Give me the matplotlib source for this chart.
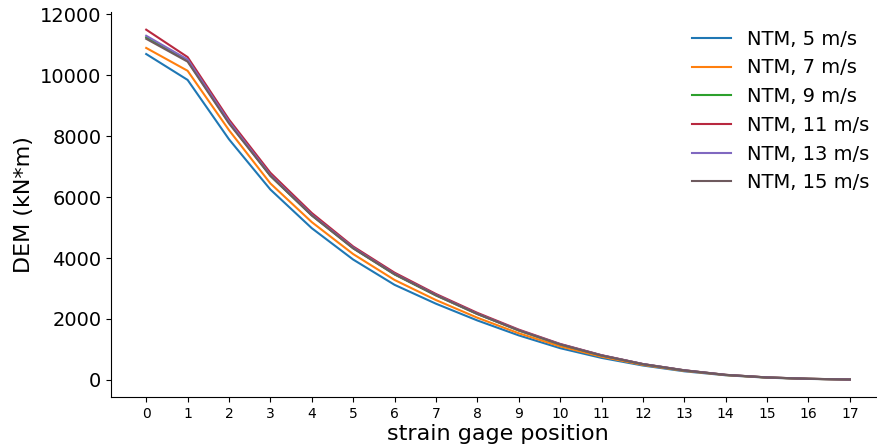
import numpy as np
import matplotlib
matplotlib.use("Agg")
import matplotlib.pyplot as plt

positions = np.arange(18)
labels = ["NTM, 5 m/s", "NTM, 7 m/s", "NTM, 9 m/s", "NTM, 11 m/s", "NTM, 13 m/s", "NTM, 15 m/s"]

dem_5 = [10700, 9850, 7900, 6250, 4980, 3950, 3120, 2500, 1950, 1460, 1040, 720, 470, 280, 150, 70, 30, 10]
dem_7 = [10900, 10150, 8200, 6450, 5180, 4130, 3280, 2620, 2040, 1530, 1100, 760, 490, 295, 155, 74, 32, 10]
dem_9 = [11250, 10480, 8450, 6700, 5400, 4320, 3460, 2770, 2160, 1620, 1160, 800, 515, 310, 162, 78, 34, 11]
dem_11 = [11500, 10600, 8550, 6800, 5480, 4380, 3520, 2820, 2200, 1650, 1180, 810, 520, 315, 165, 80, 35, 11]
dem_13 = [11300, 10520, 8480, 6730, 5420, 4340, 3480, 2790, 2170, 1630, 1170, 805, 518, 312, 163, 79, 34, 11]
dem_15 = [11200, 10450, 8420, 6700, 5400, 4320, 3470, 2780, 2165, 1625, 1165, 800, 515, 310, 162, 78, 34, 11]
series = [dem_5, dem_7, dem_9, dem_11, dem_13, dem_15]
colors = ["#1f77b4", "#ff7f0e", "#2ca02c", "#b8283f", "#8068c0", "#6e5a5e"]

fig = plt.figure(figsize=(8.77, 4.48), dpi=100)
ax = fig.add_axes([0.1266, 0.1138, 0.8826, 0.859])

for vals, lab, c in zip(series, labels, colors):
    ax.plot(positions, vals, label=lab, color=c, linewidth=1.5)

ax.set_xticks(positions)
ax.tick_params(axis="x", labelsize=10)
ax.tick_params(axis="y", labelsize=14)
ax.set_xlabel("strain gage position", fontsize=16, labelpad=2)
ax.set_ylabel("DEM (kN*m)", fontsize=16)
ax.spines["top"].set_visible(False)
ax.spines["right"].set_visible(False)
ax.legend(loc="upper right", frameon=False, fontsize=14, bbox_to_anchor=(1.002, 1.0))

fig.savefig("out.png", dpi=100)
